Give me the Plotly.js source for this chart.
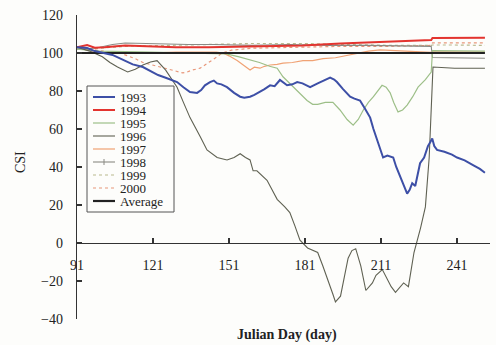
<!DOCTYPE html>
<html>
<head>
<meta charset="utf-8">
<script src="https://cdn.plot.ly/plotly-3.0.1.min.js"></script>
<style>html,body{margin:0;padding:0;background:#fdfdfb;}#chart{width:496px;height:345px;}</style>
</head>
<body>
<div id="chart"></div>
<script>
// ---- Data ----
const seriesNames = ["1993","1994","1995","1996","1997","1998","1999","2000","Average"];
const xTickVals = [91,121,151,181,211,241];

const days1993 = [91,95,98,101,105,109,113,117,120,123,126,128.5,130.5,133,135.6,138.4,140,141.5,143.5,145,146.3,148,150.2,153,155.4,157,159.3,161,163.2,165,167.2,169,171.1,172.5,173.9,176,177.9,180,183,186,188.5,190.9,192.5,193.6,196,198.8,200.5,202.7,204.5,206.7,208,209.4,211.8,213.5,215.8,217,218.5,220,221.3,222.3,223.3,224.5,225.5,226.4,228,229.5,230.4,231.2,232,233.1,236,239,241,244,247.3,250,252];
const csi1993 = [103,102.6,101,100,99,96.5,94,92.6,90.5,88.4,87,85.8,84.7,82,79.5,79,80.5,83,84.7,85.5,84,83.5,82,79,77,76.5,77,78,79.5,81,83,82.5,85.8,84.5,83,83.5,84.7,84,82,84,85.5,87,86,84.7,81,77,76,75,71,66,60,54,45,46,45,40,35,30,26,28,31.5,30,36,42,45,51,53,55,51,49,48,46.5,45,43.5,41,39,37];

const days1994 = [91,93,95,98,102,110,120,130,143,160,180,195,210,220,230.8,231.3,240,252];
const csi1994 = [103,103.8,104.2,102.8,103,104,103.5,103,103,103.5,104,105,105.8,106.2,106.8,107.9,108,108];

const days1995 = [91,100,120,140,150,155,159,163,167,170,172.3,175,179,181.8,184,186,189,192,194.8,197.6,200,202,204,206,208,211.4,213,214.6,216,217.7,219.5,221.3,223.5,225.6,228.5,230.8,231.3,240,252];
const csi1995 = [102,101,100.5,100,99.5,98,96.5,95,93,92,87.5,84,79,75,73,73,74,74,70,65,62,65,70,74,77,83,82,79,74,69,70,72.6,77,82,86,90,101.2,101.2,101];

const days1996 = [91,96,101,104,107,111,114,117,120,122.6,126,130.5,133,135.6,139.6,142.3,146.3,150.2,153,155.4,157.5,159.3,160.5,162,166,170,173,175,177,179,182,184,186,188,190,192,193,195,196.5,198,199.5,201,203,205,207.6,209,211.5,213.5,215,216.7,218.5,219.9,221.8,224,226.6,228.5,230,231,231.5,240,252];
const csi1996 = [103,101,98,95,92.6,90,91.5,93.7,95.3,96,91,82,74,66,56,49,45,43.7,45,47,45,43.7,38,38,33,23,19,16,9,1.5,-2.6,-4,-5,-12,-19,-27,-31,-28,-18,-8,-4,-3,-12,-25,-21,-17,-14,-19,-23,-26,-23,-21,-23,-5,8,19,45,80,92.6,92,92];

const days1997 = [91,95,100,110,120,130,140,146,148.6,151,154.2,157,159.3,161,163.2,165,167.2,170,172.3,176,180.2,184,188.1,193,198.8,201.5,206,210.6,218,226.4,230.8,231.3,240,252];
const csi1997 = [103,101.5,100.5,100.2,100,100.5,100.5,100.5,100,98.5,96,93,91,92.5,92,93,93.7,94,94.7,95,96,96,97,97.5,99,100,101,101.6,101,100.5,100.3,100.6,100.6,100.5];

const days1998 = [91,95,100,105,110,118,125,135,145,160,175,190,205,220,230.8,231.3,240,252];
const csi1998 = [102,102,103,104.5,105.3,105,105,104.5,104.5,104,104.5,104,104,103.5,103.5,97.6,97.4,97.2];

const days1999 = [91,100,110,125,140,160,180,200,215,230.8,231.3,240,252];
const csi1999 = [102,102.5,103.5,104,104.5,105,105,104.5,104,104,104.2,104.2,104];

const days2000 = [91,96,100,104,108,111,114,117,120,123.8,127,130,132.8,134.5,136.4,139.6,142.7,146.3,148.2,152,160,175,195,215,230.8,231.3,240,252];
const csi2000 = [103,102,101.5,100.5,100,98.5,97,95,94,92.6,91.5,90.5,89.5,90,91,92,94.7,98,100,101.5,102.5,103,103.5,103.5,104,105.3,105.3,105.3];

const daysAvg = [91,252];
const csiAvg = [100,100];

// ---- Styles ----
const styles = {
  "1993": {color:"#3d4fa6", width:2, dash:"solid"},
  "1994": {color:"#e3342f", width:2, dash:"solid"},
  "1995": {color:"#9dbf88", width:1.2, dash:"solid"},
  "1996": {color:"#5f6152", width:1.1, dash:"solid"},
  "1997": {color:"#f0a274", width:1.2, dash:"solid"},
  "1998": {color:"#8a8a84", width:1.1, dash:"solid"},
  "1999": {color:"#b9b98e", width:1.2, dash:"dot"},
  "2000": {color:"#e8977a", width:1.2, dash:"dot"},
  "Average": {color:"#222222", width:2.2, dash:"solid"}
};
const dataByName = {
  "1993":[days1993,csi1993], "1994":[days1994,csi1994], "1995":[days1995,csi1995],
  "1996":[days1996,csi1996], "1997":[days1997,csi1997], "1998":[days1998,csi1998],
  "1999":[days1999,csi1999], "2000":[days2000,csi2000], "Average":[daysAvg,csiAvg]
};
const drawOrder = ["1999","2000","1998","1997","1995","1996","Average","1994","1993"];

const traces = drawOrder.map(n => ({
  x: dataByName[n][0], y: dataByName[n][1], name: n, type: "scatter", mode: "lines",
  line: {color: styles[n].color, width: styles[n].width, dash: styles[n].dash},
  showlegend: false, hoverinfo: "skip"
}));

// ---- Layout geometry ----
const L = 77, R = 6, T = 15, B = 26, W = 496, H = 345;
const pw = W - L - R, ph = H - T - B;
const px2x = p => (p - L) / pw;
const py2y = p => (H - B - p) / ph;

const shapes = [];
const annotations = [];
const serif = "Liberation Serif, Times New Roman, serif";

// manual legend
shapes.push({type:"rect", xref:"paper", yref:"paper", x0:px2x(87), x1:px2x(174), y0:py2y(212), y1:py2y(86),
  line:{color:"#555", width:1}, fillcolor:"rgba(253,253,251,1)", layer:"above"});
seriesNames.forEach((n, i) => {
  const yy = py2y(97 + i * 13);
  const s = styles[n];
  shapes.push({type:"line", xref:"paper", yref:"paper", x0:px2x(93), x1:px2x(115), y0:yy, y1:yy,
    line:{color:s.color, width:s.width, dash:s.dash}, layer:"above"});
  if (n === "1998") {
    shapes.push({type:"line", xref:"paper", yref:"paper", x0:px2x(104), x1:px2x(104), y0:yy - 3/ph, y1:yy + 3/ph,
      line:{color:s.color, width:1}, layer:"above"});
  }
  annotations.push({xref:"paper", yref:"paper", x:px2x(119), y:yy, text:n, showarrow:false, borderpad:0,
    xanchor:"left", yanchor:"middle", font:{family:serif, size:13, color:"#222"}});
});

annotations.push({xref:"paper", yref:"paper", x:px2x(287), y:py2y(335), text:"<b>Julian Day (day)</b>", showarrow:false,
  xanchor:"center", yanchor:"middle", font:{family:serif, size:14, color:"#222"}});
annotations.push({xref:"paper", yref:"paper", x:px2x(20), y:py2y(162), text:"CSI", showarrow:false, textangle:-90,
  xanchor:"center", yanchor:"middle", font:{family:serif, size:14, color:"#222"}});

const layout = {
  width: W, height: H,
  margin: {l:L, r:R, t:T, b:B, pad:0},
  paper_bgcolor: "#fdfdfb", plot_bgcolor: "#fdfdfb",
  showlegend: false,
  xaxis: {
    range: [91, 254], tickmode: "array", tickvals: xTickVals, ticktext: xTickVals.map(String),
    ticks: "inside", ticklen: 5, tickwidth: 1.2, tickcolor: "#333",
    showline: true, linecolor: "#333", linewidth: 1.3, showgrid: false, zeroline: false,
    anchor: "free", position: 40/160, ticklabelstandoff: 9,
    tickfont: {family: serif, size: 14, color: "#222"}
  },
  yaxis: {
    range: [-40, 120], tickmode: "linear", tick0: -40, dtick: 20,
    ticks: "inside", ticklen: 5, tickwidth: 1.2, tickcolor: "#333",
    showline: true, linecolor: "#333", linewidth: 1.3, showgrid: false, zeroline: false,
    ticklabelstandoff: 10,
    tickfont: {family: serif, size: 14, color: "#222"}
  },
  shapes: shapes,
  annotations: annotations
};

Plotly.newPlot("chart", traces, layout, {displayModeBar:false, staticPlot:true});
</script>
</body>
</html>
